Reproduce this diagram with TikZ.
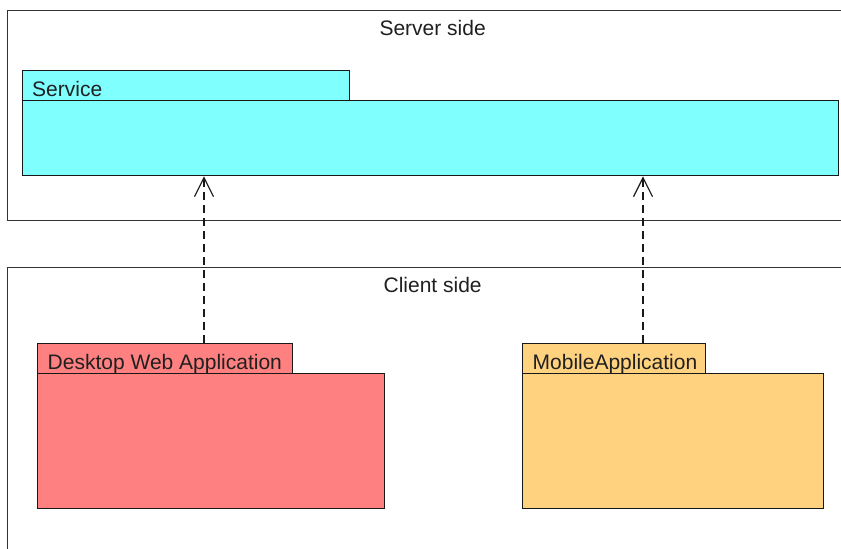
\documentclass[tikz,border=0pt]{standalone}
\usepackage{fontspec}
\setmainfont{Liberation Sans}
\usetikzlibrary{arrows.meta}

\definecolor{svcfill}{HTML}{80FFFF}
\definecolor{webfill}{HTML}{FF8080}
\definecolor{mobfill}{HTML}{FFD280}
\definecolor{framecol}{HTML}{333333}
\definecolor{inkcol}{HTML}{202020}

\tikzset{
  frame/.style={draw=framecol, line width=1.3bp, anchor=north west, inner sep=0pt},
  frametitle/.style={anchor=base, inner sep=0pt, text=inkcol, font=\fontsize{21bp}{25bp}\selectfont},
  pkgbody/.style={draw=black!90, line width=1.3bp, anchor=north west, inner sep=0pt},
  pkgtab/.style={pkgbody, minimum height=30bp},
  pkglabel/.style={anchor=base west, inner sep=0pt, text=inkcol, font=\fontsize{21bp}{25bp}\selectfont},
  dep/.style={draw=black!90, line width=1.2bp, dash pattern=on 8bp off 5bp,
    -{Straight Barb[length=19bp, width=19bp, line width=1.2bp]}}
}

\begin{document}
\begin{tikzpicture}[x=1bp, y=-1bp]
  \useasboundingbox (0,0) rectangle (841,549);
  \fill[white] (0,0) rectangle (841,549);
  \clip (0,0) rectangle (841,549);

  % server and client frames (they run past the right and bottom edges)
  \node[frame, minimum width=850bp, minimum height=210bp] (server) at (7,10) {};
  \node[frametitle] at ([yshift=-25.5bp]server.north) {Server side};
  \node[frame, minimum width=850bp, minimum height=360bp] (client) at (7,267) {};
  \node[frametitle] at ([yshift=-25.5bp]client.north) {Client side};

  % Service package
  \node[pkgbody, fill=svcfill, minimum width=816bp, minimum height=75bp] (svcbody) at (22,100) {};
  \node[pkgtab, fill=svcfill, minimum width=327bp] (svctab) at (22,70) {};
  \node[pkglabel] at ([xshift=10bp, yshift=5bp]svctab.south west) {Service};

  % Desktop Web Application package
  \node[pkgbody, fill=webfill, minimum width=347bp, minimum height=135bp] (webbody) at (37,373) {};
  \node[pkgtab, fill=webfill, minimum width=255bp] (webtab) at (37,343) {};
  \node[pkglabel] at ([xshift=10.5bp, yshift=5bp]webtab.south west) {Desktop Web Application};

  % MobileApplication package
  \node[pkgbody, fill=mobfill, minimum width=301bp, minimum height=135bp] (mobbody) at (522,373) {};
  \node[pkgtab, fill=mobfill, minimum width=183bp] (mobtab) at (522,343) {};
  \node[pkglabel] at ([xshift=10.5bp, yshift=5bp]mobtab.south west) {MobileApplication};

  % dependencies on the service
  \draw[dep] ([xshift=167bp]webtab.north west) -- ([xshift=167bp]webtab.north west |- svcbody.south);
  \draw[dep] ([xshift=121bp]mobtab.north west) -- ([xshift=121bp]mobtab.north west |- svcbody.south);
\end{tikzpicture}
\end{document}
